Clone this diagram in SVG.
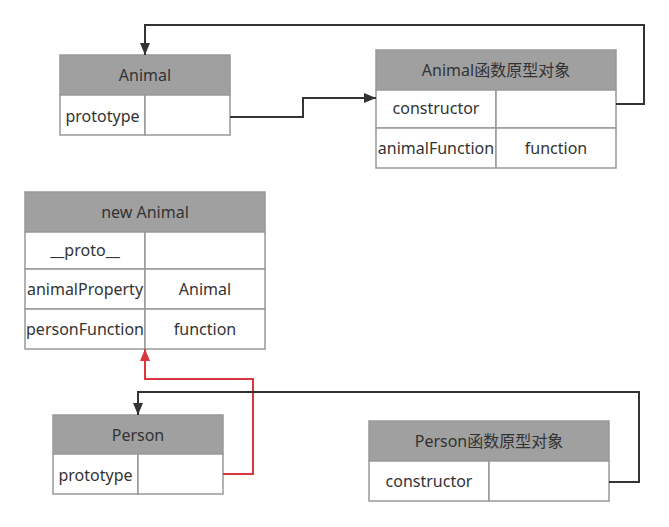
<svg xmlns="http://www.w3.org/2000/svg" width="669" height="527" viewBox="0 0 669 527">
<defs>
<style>
.hd{fill:#a0a0a0;stroke:#999;stroke-width:1.5}
.cell{fill:#fff;stroke:#999;stroke-width:1.5}
text{font-family:"Segoe UI","Noto Sans","Noto Sans CJK SC",sans-serif;font-size:16px;fill:#333;text-anchor:middle;dominant-baseline:central}
.blk{fill:none;stroke:#333;stroke-width:2}
.red{fill:none;stroke:#d9363e;stroke-width:2}
</style>
<marker id="ab" markerWidth="12" markerHeight="12" viewBox="0 0 12 12" refX="12" refY="6" orient="auto" markerUnits="userSpaceOnUse"><path d="M0,1 L12,6 L0,11 Z" fill="#333"/></marker>
<marker id="ar" markerWidth="12" markerHeight="12" viewBox="0 0 12 12" refX="12" refY="6" orient="auto" markerUnits="userSpaceOnUse"><path d="M0,1 L12,6 L0,11 Z" fill="#d9363e"/></marker>
</defs>
<rect width="669" height="527" fill="#fff"/>
<g id="animal">
<rect class="hd" x="60" y="55" width="170" height="40"/>
<text x="145" y="75">Animal</text>
<rect class="cell" x="60" y="95" width="85" height="40"/>
<rect class="cell" x="145" y="95" width="85" height="40"/>
<text x="102.5" y="116">prototype</text>
</g>
<g id="animal-proto">
<rect class="hd" x="376" y="50" width="240" height="40"/>
<text x="496" y="70">Animal函数原型对象</text>
<rect class="cell" x="376" y="90" width="120" height="38"/>
<rect class="cell" x="496" y="90" width="120" height="38"/>
<text x="436" y="108">constructor</text>
<rect class="cell" x="376" y="128" width="120" height="40"/>
<rect class="cell" x="496" y="128" width="120" height="40"/>
<text x="436" y="148">animalFunction</text>
<text x="556" y="148">function</text>
</g>
<g id="new-animal">
<rect class="hd" x="25" y="192" width="240" height="40"/>
<text x="145" y="212">new Animal</text>
<rect class="cell" x="25" y="232" width="120" height="37"/>
<rect class="cell" x="145" y="232" width="120" height="37"/>
<text x="85" y="250">__proto__</text>
<rect class="cell" x="25" y="269" width="120" height="40"/>
<rect class="cell" x="145" y="269" width="120" height="40"/>
<text x="85" y="289">animalProperty</text>
<text x="205" y="289">Animal</text>
<rect class="cell" x="25" y="309" width="120" height="40"/>
<rect class="cell" x="145" y="309" width="120" height="40"/>
<text x="85" y="329">personFunction</text>
<text x="205" y="329">function</text>
</g>
<g id="person">
<rect class="hd" x="53" y="415" width="170" height="39"/>
<text x="138" y="435">Person</text>
<rect class="cell" x="53" y="454" width="85" height="40"/>
<rect class="cell" x="138" y="454" width="85" height="40"/>
<text x="95.5" y="475">prototype</text>
</g>
<g id="person-proto">
<rect class="hd" x="369" y="421" width="240" height="40"/>
<text x="489" y="441">Person函数原型对象</text>
<rect class="cell" x="369" y="461" width="120" height="40"/>
<rect class="cell" x="489" y="461" width="120" height="40"/>
<text x="429" y="481">constructor</text>
</g>
<g id="connectors">
<polyline class="blk" points="230,117 303,117 303,98 376,98" marker-end="url(#ab)"/>
<polyline class="blk" points="616,104 644,104 644,25 145,25 145,55" marker-end="url(#ab)"/>
<polyline class="red" points="223,474 253,474 253,379 145,379 145,349" marker-end="url(#ar)"/>
<polyline class="blk" points="609,482 639,482 639,392 138,392 138,415" marker-end="url(#ab)"/>
</g>
</svg>
